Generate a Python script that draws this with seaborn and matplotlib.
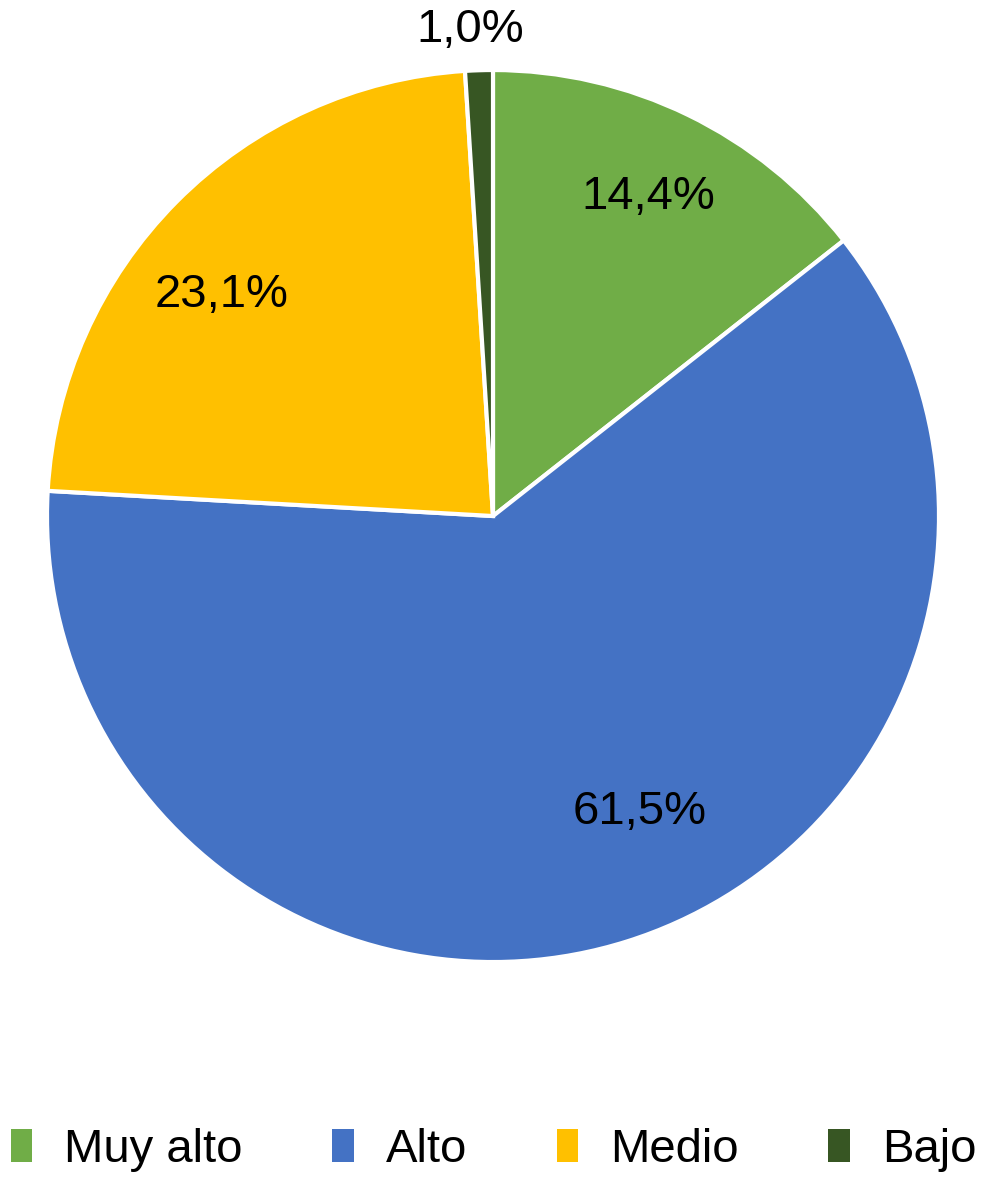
import matplotlib
matplotlib.use('Agg')
import matplotlib.pyplot as plt
from matplotlib.patches import Patch
import numpy as np
import seaborn as sns

# data
categories = ['Muy alto', 'Alto', 'Medio', 'Bajo']
values = [14.4, 61.5, 23.1, 1.0]
colors = ['#70AD47', '#4472C4', '#FFC000', '#375623']

# radial distance / angular nudge of each percent label (Excel style placement)
label_dist = [0.795, 0.74, 0.785, 1.09]
label_angle_shift = [0, 9, 5.6, 0.9]

sns.set_theme(style='white')
plt.rcParams['font.family'] = ['Liberation Sans', 'DejaVu Sans']

fig = plt.figure(figsize=(10, 11.81), dpi=100)
ax = fig.add_axes([0.047, 0.1854, 0.892, 0.7553])

wedges, _ = ax.pie(values, colors=colors, startangle=90, counterclock=False,
                   wedgeprops=dict(edgecolor='white', linewidth=3))

for w, v, d, s in zip(wedges, values, label_dist, label_angle_shift):
    ang = np.deg2rad((w.theta1 + w.theta2) / 2 + s)
    ax.text(d * np.cos(ang), d * np.sin(ang), f'{v:.1f}%'.replace('.', ','),
            ha='center', va='center', fontsize=34, color='black')

ax.set_xlim(-1, 1)
ax.set_ylim(-1, 1)
ax.set_aspect('equal')
ax.axis('off')

handles = [Patch(facecolor=c, edgecolor='none') for c in colors]
leg = fig.legend(handles, categories, loc='center', bbox_to_anchor=(0.4935, 0.026),
                 ncol=4, frameon=False, fontsize=34, handlelength=0.45, handleheight=0.7,
                 handletextpad=0.68, columnspacing=1.9)
for t in leg.get_texts():
    t.set_color('black')

plt.savefig('out.png', dpi=100)
